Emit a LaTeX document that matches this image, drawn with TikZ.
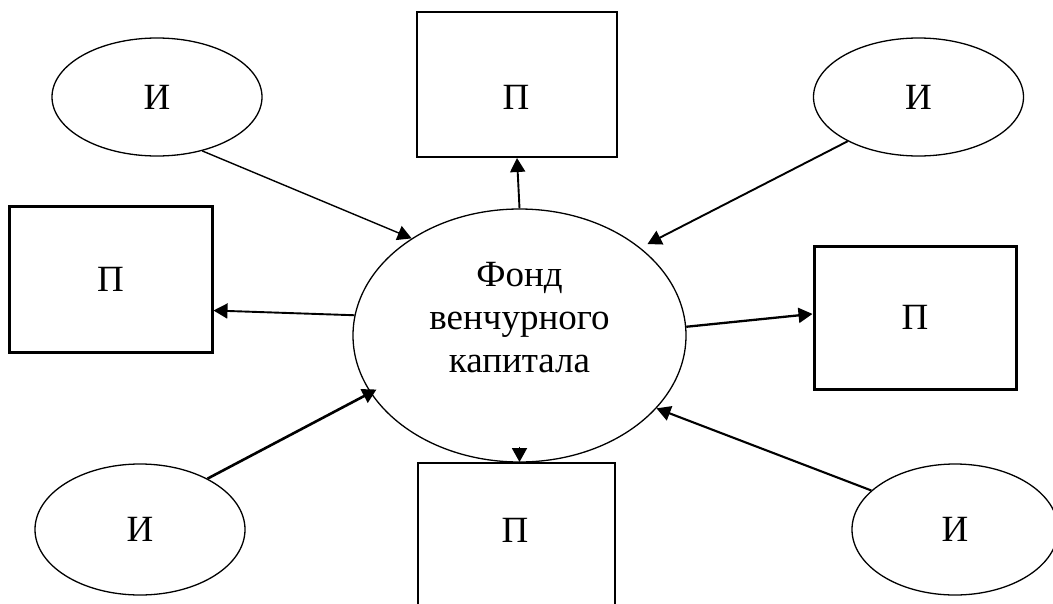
\documentclass[tikz,border=0pt]{standalone}
\usepackage{fontspec}
\setmainfont{Liberation Serif}
\usetikzlibrary{arrows.meta,shapes.geometric}
\tikzset{
  ell/.style={draw, ellipse, inner sep=0pt, line width=1.3pt},
  box/.style={draw, rectangle, inner sep=0pt},
  lbl/.style={inner sep=0pt},
  arr/.style={-{Triangle[length=14pt,width=15pt]}},
}
\begin{document}
\begin{tikzpicture}[x=1pt,y=-1pt,font=\fontsize{37}{43}\selectfont]
\useasboundingbox (0,0) rectangle (1053,603);
\clip (0,0) rectangle (1053,603);
% investors
\node[ell, minimum width=210pt, minimum height=118pt] (i1) at (157,97) {И};
\node[ell, minimum width=210pt, minimum height=118pt] (i2) at (918.5,97) {И};
\node[ell, minimum width=210pt, minimum height=131pt] (i3) at (140,529.5) {И};
\node[ell, minimum width=206pt, minimum height=131pt] (i4) at (955,529.5) {И};
% projects
\node[box, line width=2pt, minimum width=200pt, minimum height=145pt] (p1) at (517,84.5) {};
\node[lbl] (p1t) at (516,97) {П};
\node[box, line width=3pt, minimum width=203pt, minimum height=146pt] (p2) at (110.5,279) {П};
\node[box, line width=3pt, minimum width=202pt, minimum height=143pt] (p3) at (915,317.5) {П};
\node[box, line width=2pt, minimum width=197pt, minimum height=200pt] (p4) at (516,563) {};
\node[lbl] (p4t) at (515,530) {П};
% fund
\node[ell, minimum width=333pt, minimum height=253pt] (c) at (519.5,335.5) {};
\node[lbl, align=center] (ct) at (519.5,318) {Фонд\\венчурного\\капитала};
% connectors
\draw[arr, line width=1.4pt] (i1.-50) -- (c.138);
\draw[arr, line width=1.9pt, shorten >=8pt] (i2.212) -- (c.36);
\draw[arr, line width=2.6pt, shorten >=-7pt] (i3.37.5) -- (c.201);
\draw[arr, line width=2.1pt] (i4.155) -- (c.-28.5);
\draw[arr, line width=1.9pt] (c.north) -- (p1.south);
\draw[arr, line width=1.9pt] (c.173) -- (p2.-17.5);
\draw[arr, line width=2.3pt] (c.3) -- (p3.178.6);
\draw[arr, line width=1.9pt] ([yshift=16pt]c.south) -- (c.south |- p4.north);
\end{tikzpicture}
\end{document}
